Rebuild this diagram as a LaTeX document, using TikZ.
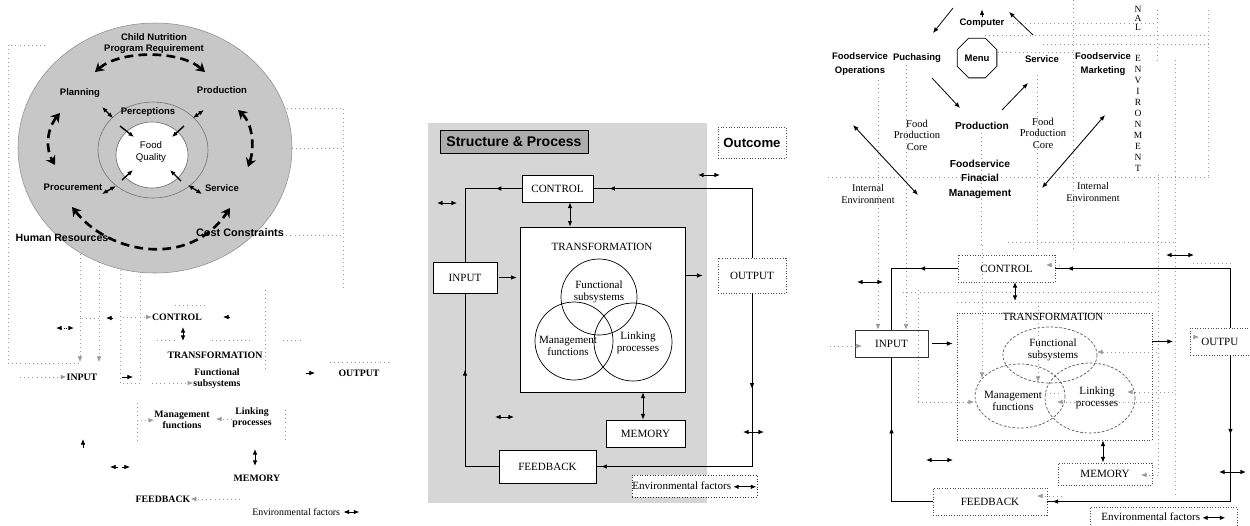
\documentclass[tikz,border=0pt]{standalone}
\usepackage{fontspec}
\setmainfont{Liberation Serif}
\setsansfont{Liberation Sans}
\usetikzlibrary{arrows.meta,decorations.markings,shapes.geometric}
\newcommand{\myser}{\fontsize{6.3}{7.2}\selectfont}
\newcommand{\mysml}{\fontsize{5.6}{6.4}\selectfont}
\newcommand{\mysans}{\sffamily\bfseries\fontsize{5.4}{8.2}\selectfont}
\newcommand{\myenvarrow}{\tikz[baseline=-0.6ex]\draw[line width=0.5pt,{Latex[length=3pt,width=2.6pt]}-{Latex[length=3pt,width=2.6pt]}] (0pt,0pt) -- (13pt,0pt);}
\tikzset{
  ghost/.style={black!40, dotted, line width=0.35pt},
  conn/.style={black, line width=0.45pt},
  tip/.style={-{Latex[length=3.2pt,width=2.6pt]}},
  dtip/.style={{Latex[length=3.2pt,width=2.6pt]}-{Latex[length=3.2pt,width=2.6pt]}, line width=0.5pt},
  dasharrow/.style={line width=1.5pt, dash pattern=on 5pt off 3pt, {Stealth[length=5pt,width=6pt]}-{Stealth[length=5pt,width=6pt]}},
  solidbox/.style={draw, line width=0.45pt, fill=white, inner sep=0pt, font=\myser},
  dotbox/.style={draw=black!70, densely dotted, line width=0.5pt, fill=white, inner sep=0pt, font=\myser},
  lbl/.style={inner sep=0pt, font=\myser, align=center},
  plbl/.style={inner sep=0pt, font=\mysml\bfseries, align=center},
  slbl/.style={inner sep=0pt, font=\mysans, align=center},
  mid/.style={postaction={decorate}, decoration={markings, mark=at position #1 with {\arrow{Latex[length=3.2pt,width=2.6pt]}}}},
  midtwo/.style 2 args={postaction={decorate}, decoration={markings, mark=at position #1 with {\arrow{Latex[length=3.2pt,width=2.6pt]}}, mark=at position #2 with {\arrow{Latex[length=3.2pt,width=2.6pt]}}}},
}
\begin{document}
\begin{tikzpicture}[x=0.02cm,y=-0.02cm]
\useasboundingbox (0,0) rectangle (1250,525);
\clip (0,0) rectangle (1250,525);
\fill[white] (0,0) rectangle (1250,525);

%% ================= PANEL 1 =================
\draw[ghost] (45,45) -- (8,45) -- (8,363) -- (80,363);
\draw[ghost] (80,200) -- (80,318) -- (100,318);
\draw[ghost, tip] (80,318) -- (80,362);
\draw[ghost, tip] (99,200) -- (99,362);
\draw[ghost] (100,92) -- (120,92) -- (120,383) -- (140,383) -- (140,185) -- (110,185);
\draw[ghost] (270,108) -- (343,108) -- (343,290);
\draw[ghost] (267,148) -- (343,148);
\draw[ghost] (278,235) -- (343,235);
\draw[ghost] (200,110) -- (240,110);
\draw[ghost] (175,305) -- (205,305);
\draw[ghost] (157,340) -- (175,340);
\draw[ghost] (212,340) -- (250,340);
\draw[ghost] (283,340) -- (300,340);
\draw[ghost] (265,290) -- (265,370);
\draw[ghost] (137,403) -- (137,442);
\draw[ghost] (285,410) -- (285,440);
\draw[ghost] (330,362) -- (390,362);

\fill[black!22] (155,148) ellipse [x radius=137, y radius=125];
\draw[black!45, line width=0.3pt] (155,148) ellipse [x radius=137, y radius=125];
\draw[black!55, line width=0.35pt] (153,150) ellipse [x radius=55, y radius=48];
\filldraw[fill=white, draw=black!60, line width=0.35pt] (152,155) ellipse [x radius=36, y radius=33];

\node[slbl, font=\sffamily\bfseries\fontsize{5.4}{6.3}\selectfont] (cn1) at (154,44) {Child Nutrition\\Program Requirement};
\node[slbl] (plan1) at (80,93) {Planning};
\node[slbl] (prod1) at (222,90) {Production};
\node[slbl] (perc1) at (148,112) {Perceptions};
\node[inner sep=0pt, align=center, font=\sffamily\fontsize{5.5}{6.3}\selectfont] (fq1) at (151,152) {Food\\Quality};
\node[slbl] (proc1) at (73,187) {Procurement};
\node[slbl] (serv1) at (222,188) {Service};
\node[slbl, font=\sffamily\bfseries\fontsize{6}{7}\selectfont] (hr1) at (62,238) {Human Resources};
\node[slbl, font=\sffamily\bfseries\fontsize{6.2}{7}\selectfont] (cc1) at (240,233) {Cost Constraints};

\draw[dasharrow] (95,72) .. controls (120,50) and (180,50) .. (205,72);
\draw[dasharrow] (60,113) .. controls (46,130) and (46,150) .. (55,165);
\draw[dasharrow] (238,110) .. controls (254,125) and (254,150) .. (248,167);
\draw[dasharrow] (72,207) .. controls (110,255) and (190,268) .. (230,208);

\draw[dtip, line width=0.8pt] (102,107) -- (113,118);
\draw[dtip, line width=0.8pt] (193,118) -- (204,110);
\draw[dtip, line width=0.8pt] (102,194) -- (116,186);
\draw[dtip, line width=0.8pt] (188,185) -- (202,194);
\draw[tip, line width=0.8pt] (120,126) -- (134,137);
\draw[tip, line width=0.8pt] (184,126) -- (172,137);
\draw[tip, line width=0.8pt] (122,180) -- (133,170);
\draw[tip, line width=0.8pt] (181,181) -- (170,170);

\node[plbl] (ctl1) at (177,317) {CONTROL};
\node[plbl] (tr1) at (215,355) {TRANSFORMATION};
\node[plbl] (in1) at (82,377) {INPUT};
\node[plbl] (fs1) at (217,379) {Functional\\subsystems};
\node[plbl] (mg1) at (182,420) {Management\\functions};
\node[plbl] (lk1) at (252,418) {Linking\\processes};
\node[plbl] (out1) at (359,373) {OUTPUT};
\node[plbl] (mem1) at (257,478) {MEMORY};
\node[plbl] (fb1) at (163,499) {FEEDBACK};
\node[inner sep=0pt, font=\mysml, anchor=west] (env1) at (252,512) {Environmental factors};

\draw[tip] (113,318) -- (106,318);
\draw[ghost, tip] (123,317) -- (ctl1.west);
\draw[tip] (230,317) -- (223,317);
\draw[dtip] (183,327) -- (183,341);
\draw[dtip, densely dotted] (56,328) -- (74,328);
\draw[ghost, tip] (20,377) -- (in1.west);
\draw[tip] (122,377) -- (133,377);
\draw[ghost, tip] (152,383) -- (fs1.west |- 152,383);
\draw[tip] (306,373) -- (315,373);
\draw[ghost, tip] (137,421) -- (mg1.west);
\draw[ghost, tip] (232,419) -- (216,419);
\draw[tip] (83,448) -- (83,439);
\draw[dtip] (255,449) -- (255,466);
\draw[tip] (118,467) -- (110,467);
\draw[tip] (122,467) -- (130,467);
\draw[ghost, tip] (240,499) -- (fb1.east);
\draw[dtip] (env1.east) ++(3,0) -- ++(16,0);

%% ================= PANEL 2 =================
\fill[black!16] (428,123) rectangle (707,503);

\node[draw, fill=black!32, line width=0.4pt, inner sep=0pt, minimum width=2.96cm, minimum height=0.46cm, font=\sffamily\bfseries\fontsize{8}{9}\selectfont] (sp2) at (514,141.5) {Structure \& Process};
\node[dotbox, minimum width=1.36cm, minimum height=0.62cm, font=\sffamily\bfseries\fontsize{7.5}{9}\selectfont] (outc2) at (752,142.5) {Outcome};

\node[solidbox, minimum width=1.42cm, minimum height=0.54cm] (ctrl2) at (557.5,188.5) {CONTROL};
\node[draw, line width=0.45pt, fill=white, inner sep=0pt, minimum width=3.3cm, minimum height=3.3cm] (trans2) at (602.5,309.5) {};
\node[lbl] (trl2) at (602,247) {TRANSFORMATION};
\draw[line width=0.4pt] (599,297) circle [radius=38];
\draw[line width=0.4pt] (574,341) circle [radius=39];
\draw[line width=0.4pt] (633,342) circle [radius=39];
\node[lbl] (fs2) at (599,292) {Functional\\subsystems};
\node[lbl] (mg2) at (568,346) {Management\\functions};
\node[lbl] (lk2) at (638,343) {Linking\\processes};

\node[solidbox, minimum width=1.28cm, minimum height=0.62cm] (in2) at (465,277.5) {INPUT};
\node[dotbox, minimum width=1.36cm, minimum height=0.7cm] (out2) at (752,275.5) {OUTPUT};
\node[solidbox, minimum width=1.58cm, minimum height=0.54cm] (mem2) at (645.5,433.5) {MEMORY};
\node[solidbox, minimum width=1.94cm, minimum height=0.66cm] (fb2) at (547.5,466.5) {FEEDBACK};
\node[dotbox, draw=black!80, minimum width=2.5cm, minimum height=0.44cm] (env2) at (694.5,486) {Environmental factors\,\myenvarrow};

\draw[conn, mid=0.2] (ctrl2.west) -| (in2.north);
\draw[conn, mid=0.93] (out2.north) |- (ctrl2.east);
\draw[conn, mid=0.63] (fb2.west) -| (in2.south);
\draw[conn, midtwo={0.29}{0.985}] (out2.south) |- (fb2.east);
\draw[conn, tip] ([xshift=0.04cm]in2.east) -- ([xshift=-0.06cm]in2.east -| trans2.west);
\draw[conn, tip] (out2.west -| trans2.east) -- ([xshift=-0.3cm]out2.west);
\draw[dtip] ([xshift=0.25cm]ctrl2.south) -- ([xshift=0.25cm]ctrl2.south |- trans2.north);
\draw[dtip] ([xshift=-0.05cm]mem2.north) -- ([xshift=-0.05cm]mem2.north |- trans2.south);
\draw[dtip] (437,203) -- (457,203);
\draw[dtip] (698,175) -- (720,175);
\draw[dtip] (495,417) -- (514,417);
\draw[dtip] (743,432) -- (764,432);

%% ================= PANEL 3 =================
\draw[ghost] (1013,23) -- (1157,23);
\draw[ghost] (985,35) -- (1210,35);
\draw[ghost] (1043,44) -- (1210,44);
\draw[ghost] (998,52) -- (1073,52);
\draw[ghost] (828,177) -- (1210,177);
\draw[ghost] (1008,242) -- (1175,242);
\draw[ghost] (1073,0) -- (1073,250);
\draw[ghost] (1158,175) -- (1158,475);
\draw[ghost] (1175,60) -- (1175,497);
\draw[ghost] (1208,10) -- (1208,177);
\draw[ghost] (1157,10) -- (1157,60);
\draw[ghost] (1037,75) -- (1037,250);
\draw[ghost] (981,133) -- (981,245);
\draw[ghost] (903,292) -- (1157,292);
\draw[ghost] (957,302) -- (1152,302);
\draw[ghost] (1193,263) -- (1233,263);

\node[slbl] (comp3) at (982,23) {Computer};
\node[draw, line width=0.45pt, regular polygon, regular polygon sides=8, minimum size=0.86cm, inner sep=0pt, font=\mysans] (menu3) at (977,58) {Menu};
\node[slbl] (fso3) at (860,64) {Foodservice\\Operations};
\node[slbl] (pur3) at (917,58) {Puchasing};
\node[slbl] (ser3) at (1042,59) {Service};
\node[slbl] (fsm3) at (1103,64) {Foodservice\\Marketing};
\node[slbl, font=\sffamily\bfseries\fontsize{5.8}{8.2}\selectfont] (pro3) at (982,126) {Production};
\node[inner sep=0pt, align=center, font=\fontsize{6}{6.6}\selectfont] (fpc3a) at (917,135) {Food\\Production\\Core};
\node[inner sep=0pt, align=center, font=\fontsize{6}{6.6}\selectfont] (fpc3b) at (1043,133) {Food\\Production\\Core};
\node[slbl, font=\sffamily\bfseries\fontsize{5.8}{8.2}\selectfont] (ffm3) at (980,179) {Foodservice\\Finacial\\Management};
\node[inner sep=0pt, align=center, font=\fontsize{5.8}{6.6}\selectfont] (ie3a) at (868,194) {Internal\\Environment};
\node[inner sep=0pt, align=center, font=\fontsize{5.8}{6.6}\selectfont] (ie3b) at (1093,192) {Internal\\Environment};
\foreach \ch/\yy in {N/9,A/18,L/27,E/58,N/69,V/80,I/91,R/102,O/113,N/124,M/135,E/146,N/157,T/168}
  \node[inner sep=0pt, font=\fontsize{5.4}{6}\selectfont, fill=white] at (1138,\yy) {\ch};

\coordinate (a1s) at (953,8); \coordinate (a1e) at (933,33);
\draw[conn, tip] (a1s) -- (a1e);
\draw[conn, tip] (comp3.north) ++(0,-1) -- ++(0,-8);
\coordinate (a3s) at (1033,35); \coordinate (a3e) at (1009,12);
\draw[conn, tip] (a3s) -- (a3e);
\draw[conn, tip] (932,78) -- (960,108);
\draw[conn, tip] (1002,110) -- (1028,83);
\draw[conn, dtip] (853,125) -- (918,195);
\draw[conn, dtip] (1105,115) -- (1042,188);

\node[draw=black!70, densely dotted, line width=0.5pt, inner sep=0pt, minimum width=3.9cm, minimum height=2.54cm] (trans3) at (1054.5,376.5) {};
\node[lbl] (trl3) at (1053,317) {TRANSFORMATION};
\draw[black!65, dash pattern=on 1.5pt off 1pt, line width=0.4pt] (1050,355) ellipse [x radius=47, y radius=28];
\draw[black!65, dash pattern=on 1.5pt off 1pt, line width=0.4pt] (1020,396) ellipse [x radius=45, y radius=32];
\draw[black!65, dash pattern=on 1.5pt off 1pt, line width=0.4pt] (1090,398) ellipse [x radius=45, y radius=35];
\node[lbl] (fs3) at (1053,350) {Functional\\subsystems};
\node[lbl] (mg3) at (1013,401) {Management\\functions};
\node[lbl] (lk3) at (1097,398) {Linking\\processes};

\node[dotbox, minimum width=1.94cm, minimum height=0.54cm] (ctrl3) at (1006.5,268.5) {CONTROL};
\node[solidbox, draw=black!80, minimum width=1.46cm, minimum height=0.54cm] (in3) at (891.5,343.5) {INPUT};
\node[dotbox, minimum width=1.6cm, minimum height=0.54cm, anchor=west] (out3) at (1190,341.5) {};
\node[lbl, anchor=west] (outt3) at (1201,341.5) {OUTPU};
\node[dotbox, minimum width=1.88cm, minimum height=0.44cm] (mem3) at (1105,474) {MEMORY};
\node[dotbox, minimum width=2.28cm, minimum height=0.54cm] (fb3) at (990,501.5) {FEEDBACK};
\node[dotbox, minimum width=2.94cm, minimum height=0.38cm] (env3) at (1163.5,517) {Environmental factors\,\myenvarrow};

\coordinate (g1) at (878,80); \coordinate (g2) at (906,65);
\draw[ghost, tip] (g1) -- (g1 |- in3.north);
\draw[ghost, tip] (g2) -- (g2 |- in3.north);
\draw[ghost, tip] (982,245) -- (982,378);
\draw[ghost, tip] (1038,302) -- (1038,382);
\draw[ghost, tip] (918,290) -- (918,402) -- (974,402);
\draw[ghost, tip] (1157,352) -- (1097,352);
\draw[ghost, tip] (1173,392) -- (1127,392);
\draw[ghost, tip] (1157,402) -- (1057,402);
\draw[ghost] (1000,393) -- (1060,393);
\draw[ghost, tip] (1158,475) -- (1141,475);
\draw[ghost, tip] (1062,496) -- (1037,496);
\draw[ghost, tip] (1060,265) -- (1046,265);
\draw[ghost, tip] (830,346) -- (862,346);
\draw[ghost, tip] (1190,337) -- (1199,337);

\draw[conn, mid=0.3] (ctrl3.west) -| (in3.north);
\draw[conn, mid=0.95] (out3.north) |- (ctrl3.east);
\draw[conn, mid=0.62] (fb3.west) -| (in3.south);
\draw[conn, midtwo={0.24}{0.985}] (out3.south) |- (fb3.east);
\draw[conn, tip] ([xshift=0.08cm]in3.east) -- ([xshift=-0.08cm]in3.east -| trans3.west);
\draw[conn, tip] (out3.west -| trans3.east) -- ([xshift=-0.34cm]out3.west);
\draw[dtip] (1015,282) -- (1015,301);
\draw[dtip] ([xshift=-0.04cm]mem3.north) -- ([xshift=-0.04cm]mem3.north |- trans3.south);
\draw[dtip] (857,282) -- (883,282);
\draw[dtip] (1166,255) -- (1194,255);
\draw[dtip] (926,460) -- (953,460);
\draw[dtip] (1219,472) -- (1246,472);
\end{tikzpicture}
\end{document}
